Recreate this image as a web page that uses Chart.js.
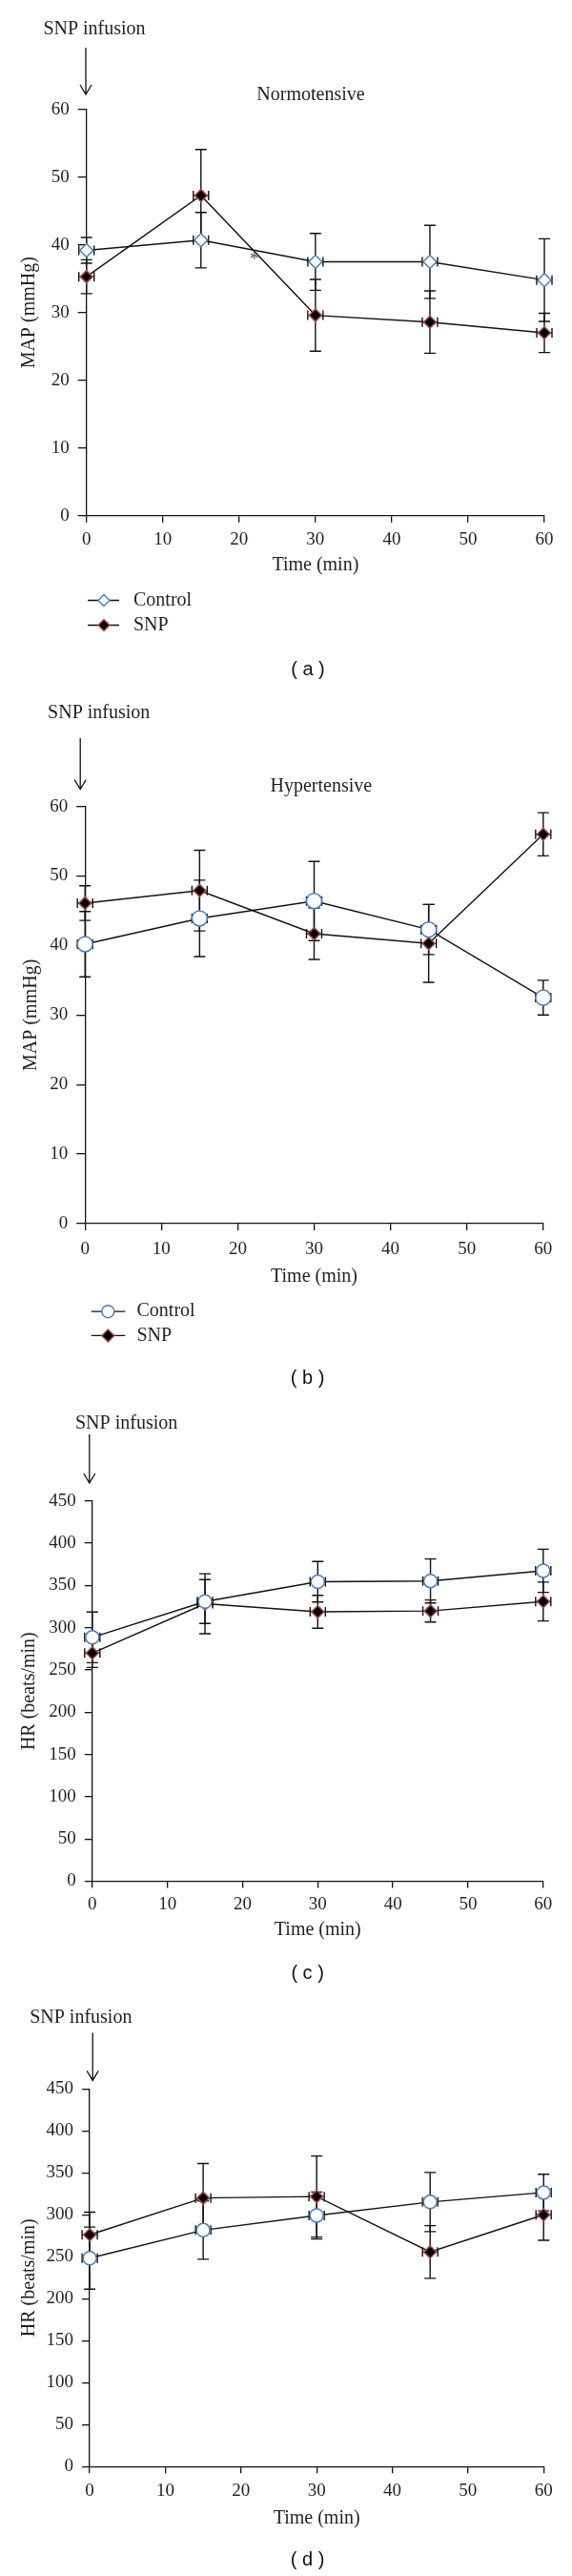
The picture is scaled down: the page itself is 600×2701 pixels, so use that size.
<!DOCTYPE html>
<html>
<head>
<meta charset="utf-8">
<script src="https://cdn.jsdelivr.net/npm/chart.js@4.4.0/dist/chart.umd.min.js"></script>
<style>
  html, body { margin: 0; padding: 0; background: #fff; }
  body { width: 600px; height: 2701px; position: relative; overflow: hidden; }
  canvas { position: absolute; left: 0; }
</style>
</head>
<body>
<canvas id="chartA" width="600" height="720" style="top:0px"></canvas>
<canvas id="chartB" width="600" height="740" style="top:720px"></canvas>
<canvas id="chartC" width="600" height="620" style="top:1460px"></canvas>
<canvas id="chartD" width="600" height="621" style="top:2080px"></canvas>
<script>
const times     = [0, 15, 30, 45, 60];
const timeTicks = [0, 10, 20, 30, 40, 50, 60];
const mapTicks  = [0, 10, 20, 30, 40, 50, 60];
const hrTicks   = [0, 50, 100, 150, 200, 250, 300, 350, 400, 450];
const seriesNames = ['Control', 'SNP'];

// (a) MAP, normotensive
const mapNormoControl    = [39.2, 40.7, 37.5, 37.5, 34.8];
const mapNormoControlErr = [1.9, 4.1, 4.2, 5.4, 6.1];
const mapNormoSnp        = [35.3, 47.3, 29.6, 28.6, 27.0];
const mapNormoSnpErr     = [2.5, 6.8, 5.3, 4.6, 2.9];

// (b) MAP, hypertensive
const mapHyperControl    = [40.2, 43.9, 46.4, 42.3, 32.5];
const mapHyperControlErr = [4.7, 5.5, 5.7, 3.6, 2.5];
const mapHyperSnp        = [46.1, 47.9, 41.7, 40.3, 56.0];
const mapHyperSnpErr     = [2.5, 5.8, 3.7, 5.6, 3.1];

// (c) HR, normotensive
const hrNormoControl    = [288.6, 331.0, 354.4, 355.3, 367.4];
const hrNormoControlErr = [30, 26, 24, 26, 25.5];
const hrNormoSnp        = [270.0, 328.4, 318.9, 319.8, 331.0];
const hrNormoSnpErr     = [17, 35.5, 19.5, 13, 23];

// (d) HR, hypertensive
const hrHyperControl    = [248.3, 281.7, 299.1, 315.2, 326.5];
const hrHyperControlErr = [37, 34.7, 28, 35.2, 21.8];
const hrHyperSnp        = [276.1, 320.0, 321.7, 255.7, 300.0];
const hrHyperSnpErr     = [27, 41, 48.3, 31.4, 30.4];

// significance mark in (a)
const starTime = 22;
const starValue = 38.5;

const SERIF = "'Liberation Serif', 'DejaVu Serif', serif";
const SANS  = "'Liberation Sans', Arial, sans-serif";
const INK   = '#231f20';
const BLUE  = '#4a7cbc';
const RED   = '#b04a4a';

function drawMarker(ctx, style, r, x, y) {
  ctx.beginPath();
  if (style === 'circle') {
    ctx.arc(x, y, r, 0, Math.PI * 2);
  } else {
    ctx.moveTo(x, y - r); ctx.lineTo(x + r, y);
    ctx.lineTo(x, y + r); ctx.lineTo(x - r, y);
    ctx.closePath();
  }
  ctx.fill();
  ctx.stroke();
}

const decor = {
  id: 'decor',
  beforeDatasetsDraw(chart) {
    const ctx = chart.ctx;
    const ys = chart.scales.y;
    ctx.save();
    ctx.strokeStyle = '#111';
    ctx.lineWidth = 1.4;
    chart.data.datasets.forEach((ds, i) => {
      chart.getDatasetMeta(i).data.forEach((pt, j) => {
        const v = ds.data[j].y, e = ds.errors[j];
        const yt = ys.getPixelForValue(v + e), yb = ys.getPixelForValue(v - e);
        ctx.beginPath();
        ctx.moveTo(pt.x, yt); ctx.lineTo(pt.x, yb);
        ctx.moveTo(pt.x - 6, yt); ctx.lineTo(pt.x + 6, yt);
        ctx.moveTo(pt.x - 6, yb); ctx.lineTo(pt.x + 6, yb);
        ctx.moveTo(pt.x - 8, pt.y); ctx.lineTo(pt.x + 8, pt.y);
        ctx.moveTo(pt.x - 8, pt.y - 5); ctx.lineTo(pt.x - 8, pt.y + 5);
        ctx.moveTo(pt.x + 8, pt.y - 5); ctx.lineTo(pt.x + 8, pt.y + 5);
        ctx.stroke();
      });
    });
    ctx.restore();
  },
  afterDraw(chart, args, o) {
    const ctx = chart.ctx;
    ctx.save();
    ctx.fillStyle = INK;
    ctx.strokeStyle = '#111';
    ctx.lineWidth = 1.3;
    ctx.textBaseline = 'middle';

    // SNP infusion label and arrow
    ctx.font = '20px ' + SERIF;
    ctx.textAlign = 'center';
    ctx.fillText('SNP infusion', o.infusion[0], o.infusion[1]);
    const [ax, ay1, ay2] = o.arrow;
    ctx.beginPath();
    ctx.moveTo(ax, ay1); ctx.lineTo(ax, ay2);
    ctx.moveTo(ax - 6, ay2 - 10); ctx.lineTo(ax, ay2); ctx.lineTo(ax + 6, ay2 - 10);
    ctx.stroke();

    if (o.title) ctx.fillText(o.title, o.titlePos[0], o.titlePos[1]);

    if (o.star) {
      ctx.fillStyle = '#555';
      ctx.fillText('*', chart.scales.x.getPixelForValue(starTime), chart.scales.y.getPixelForValue(starValue) + 5);
      ctx.fillStyle = INK;
    }

    if (o.legend) {
      const L = o.legend;
      chart.data.datasets.forEach((ds, i) => {
        const y = L.rows[i];
        ctx.strokeStyle = '#111';
        ctx.lineWidth = 1.3;
        ctx.beginPath(); ctx.moveTo(L.x1, y); ctx.lineTo(L.x2, y); ctx.stroke();
        ctx.fillStyle = ds.pointBackgroundColor;
        ctx.strokeStyle = ds.pointBorderColor;
        ctx.lineWidth = 1.4;
        drawMarker(ctx, ds.pointStyle === 'circle' ? 'circle' : 'diamond', L.r, L.mx, y);
        ctx.fillStyle = INK;
        ctx.textAlign = 'left';
        ctx.font = '20px ' + SERIF;
        ctx.fillText(ds.label, L.tx, y);
      });
    }

    ctx.font = '20px ' + SANS;
    ctx.textAlign = 'center';
    ctx.fillStyle = '#111';
    ctx.fillText(o.letter, o.letterPos[0], o.letterPos[1]);
    ctx.restore();
  }
};

function series(vals) {
  return times.map((t, i) => ({ x: t, y: vals[i] }));
}

function makePanel(id, p) {
  const H = document.getElementById(id).height;
  const XH = 70;
  const ctrlStyle = p.controlShape === 'circle' ? 'circle' : 'rectRot';
  new Chart(document.getElementById(id), {
    type: 'line',
    data: {
      datasets: [{
        label: seriesNames[0],
        data: series(p.control),
        errors: p.controlErr,
        borderColor: '#111',
        borderWidth: 1.4,
        pointStyle: ctrlStyle,
        pointRadius: p.controlRadius,
        pointBackgroundColor: '#ffffff',
        pointBorderColor: BLUE,
        pointBorderWidth: 1.5,
        tension: 0,
        clip: false
      }, {
        label: seriesNames[1],
        data: series(p.snp),
        errors: p.snpErr,
        borderColor: '#111',
        borderWidth: 1.4,
        pointStyle: 'rectRot',
        pointRadius: 6.5,
        pointBackgroundColor: '#000000',
        pointBorderColor: RED,
        pointBorderWidth: 1.5,
        tension: 0,
        clip: false
      }]
    },
    options: {
      responsive: false,
      maintainAspectRatio: false,
      animation: false,
      events: [],
      layout: {
        padding: { top: p.area.top, left: 0, right: 600 - p.area.right, bottom: H - p.area.bottom - XH }
      },
      scales: {
        x: {
          type: 'linear', min: 0, max: 60,
          afterBuildTicks: (s) => { s.ticks = timeTicks.map(v => ({ value: v })); },
          afterFit: (s) => { s.height = XH; },
          grid: { drawOnChartArea: false, drawTicks: true, tickLength: 7, color: '#111', lineWidth: 1.3 },
          border: { display: true, color: '#111', width: 1.3 },
          ticks: { autoSkip: false, maxRotation: 0, padding: p.xLabelPad, color: INK, font: { family: SERIF, size: 19 } },
          title: { display: true, text: 'Time (min)', color: INK, font: { family: SERIF, size: 20, lineHeight: 1.2 },
                   padding: { top: 0, bottom: XH - 12 - p.xTitleGap } }
        },
        y: {
          type: 'linear', min: 0, max: p.yTicks[p.yTicks.length - 1],
          afterBuildTicks: (s) => { s.ticks = p.yTicks.map(v => ({ value: v })); },
          afterFit: (s) => { s.width = p.area.left; },
          grid: { drawOnChartArea: false, drawTicks: true, tickLength: p.yTickLen, color: '#111', lineWidth: 1.3 },
          border: { display: true, color: '#111', width: 1.3 },
          ticks: { autoSkip: false, padding: 9, color: INK, font: { family: SERIF, size: 19 } },
          title: { display: true, text: p.yTitle, color: INK, font: { family: SERIF, size: 20, lineHeight: 1.2 },
                   padding: { top: p.yTitleX - 12, bottom: 0 } }
        }
      },
      plugins: {
        legend: { display: false },
        tooltip: { enabled: false },
        decor: p.decor
      }
    },
    plugins: [decor]
  });
}

makePanel('chartA', {
  control: mapNormoControl, controlErr: mapNormoControlErr,
  snp: mapNormoSnp, snpErr: mapNormoSnpErr,
  controlShape: 'diamond', controlRadius: 7,
  yTicks: mapTicks, yTitle: 'MAP (mmHg)', yTickLen: 9, yTitleX: 31,
  area: { left: 90.7, right: 571, top: 114.8, bottom: 540.7 },
  xLabelPad: 6.5, xTitleGap: 52.3,
  decor: {
    infusion: [99, 31], arrow: [90, 50, 99],
    title: 'Normotensive', titlePos: [326, 100], star: true,
    legend: { rows: [629.5, 655.5], x1: 92, x2: 125, mx: 109, tx: 140, r: 6 },
    letter: '( a )', letterPos: [323, 702.6]
  }
});

makePanel('chartB', {
  control: mapHyperControl, controlErr: mapHyperControlErr,
  snp: mapHyperSnp, snpErr: mapHyperSnpErr,
  controlShape: 'circle', controlRadius: 8,
  yTicks: mapTicks, yTitle: 'MAP (mmHg)', yTickLen: 9, yTitleX: 32.5,
  area: { left: 89.2, right: 569.8, top: 125.6, bottom: 563 },
  xLabelPad: 8.4, xTitleGap: 55.4,
  decor: {
    infusion: [103.7, 28], arrow: [84.2, 54, 107.6],
    title: 'Hypertensive', titlePos: [336.8, 104.9],
    legend: { rows: [655.2, 680.4], x1: 95.7, x2: 131.3, mx: 113.3, tx: 143.5, r: 6.5 },
    letter: '( b )', letterPos: [322.6, 725.6]
  }
});

makePanel('chartC', {
  control: hrNormoControl, controlErr: hrNormoControlErr,
  snp: hrNormoSnp, snpErr: hrNormoSnpErr,
  controlShape: 'circle', controlRadius: 7,
  yTicks: hrTicks, yTitle: 'HR (beats/min)', yTickLen: 8, yTitleX: 30.6,
  area: { left: 96.8, right: 569.8, top: 113.8, bottom: 512.5 },
  xLabelPad: 6.1, xTitleGap: 51.3,
  decor: {
    infusion: [132.6, 32.3], arrow: [93.8, 44, 95],
    letter: '( c )', letterPos: [322.6, 609.7]
  }
});

makePanel('chartD', {
  control: hrHyperControl, controlErr: hrHyperControlErr,
  snp: hrHyperSnp, snpErr: hrHyperSnpErr,
  controlShape: 'circle', controlRadius: 7,
  yTicks: hrTicks, yTitle: 'HR (beats/min)', yTickLen: 8, yTitleX: 30.6,
  area: { left: 94.1, right: 570.2, top: 110.2, bottom: 506.3 },
  xLabelPad: 7.2, xTitleGap: 54.3,
  decor: {
    infusion: [84.8, 35.5], arrow: [97.2, 51.6, 101.4],
    letter: '( d )', letterPos: [322.6, 604.6]
  }
});
</script>
</body>
</html>
